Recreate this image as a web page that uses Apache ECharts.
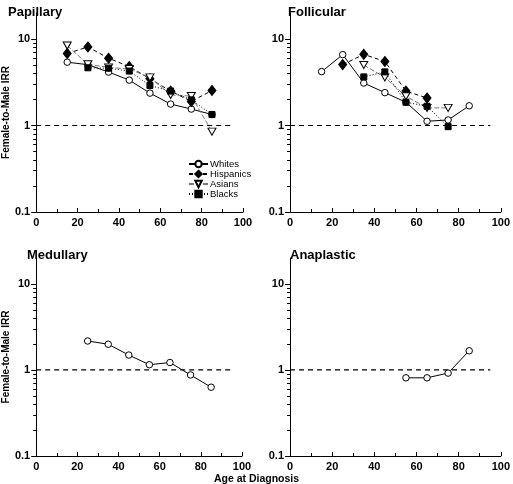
<!DOCTYPE html>
<html><head><meta charset="utf-8">
<script src="https://cdn.jsdelivr.net/npm/echarts@6/dist/echarts.min.js"></script>
<style>html,body{margin:0;padding:0;background:#fff}#c{width:513px;height:484px}</style>
</head><body><div id="c"></div>
<script>
// ---- data ----
var ages = [15, 25, 35, 45, 55, 65, 75, 85];
var papWhites    = [5.4, 5.05, 4.15, 3.35, 2.37, 1.77, 1.55, 1.34];
var papHispanics = [6.8, 8.1, 6.0, 4.8, 3.47, 2.5, 1.9, 2.54];
var papAsians    = [8.4, 5.1, 4.7, 4.5, 3.6, 2.26, 2.19, 0.85];
var papBlacks    = [null, 4.65, 4.6, 4.26, 2.9, 2.5, 1.98, 1.34];
var folWhites    = [4.2, 6.6, 3.1, 2.4, 1.86, 1.12, 1.16, 1.69];
var folHispanics = [null, 5.06, 6.65, 5.5, 2.5, 2.08, null, null];
var folAsians    = [null, null, 5.0, 3.6, 2.18, 1.6, 1.6, null];
var folBlacks    = [null, null, 3.65, 4.17, 1.86, 1.67, 0.97, null];
var medWhites    = [null, 2.17, 1.99, 1.49, 1.15, 1.22, 0.875, 0.63];
var anaWhites    = [null, null, null, null, 0.81, 0.81, 0.92, 1.67];
var panelTitles = ['Papillary', 'Follicular', 'Medullary', 'Anaplastic'];
var groups = ['Whites', 'Hispanics', 'Asians', 'Blacks'];
var refLine = [[0, 1], [95, 1]];
var yMajorTicks = [0.1, 1, 10];
var yMinorTicks = [0.2,0.3,0.4,0.5,0.6,0.7,0.8,0.9,2,3,4,5,6,7,8,9];

function pairs(vals){ var out=[]; for(var i=0;i<ages.length;i++){ if(vals[i]!=null) out.push([ages[i], vals[i]]); } return out; }

var FONT = 'Liberation Sans, Arial, Helvetica, sans-serif';
var grids = [
  {left:30, top:13, width:213, height:199},
  {left:290, top:13, width:212, height:199},
  {left:29, top:258, width:213, height:198},
  {left:290, top:258, width:212, height:198}
];
var styles = {
  Whites:    {symbol:'circle', size:6.5, fill:'#fff', line:'#000', type:'solid'},
  Hispanics: {symbol:'diamond', size:[8,10], fill:'#000', line:'#000', type:[4,3]},
  Asians:    {symbol:'path://M0,0 L10,0 L5,9 Z', size:[8,7], fill:'#fff', line:'#777', type:[5,2]},
  Blacks:    {symbol:'rect', size:6, fill:'#000', line:'#000', type:[1,2]}
};

var xAxes=[], yAxes=[], series=[], titles=[];
grids.forEach(function(g, i){
  xAxes.push({type:'value', gridIndex:i, min:0, max:100, interval:20,
    axisLine:{show:true, lineStyle:{color:'#000', width:1}},
    axisTick:{show:true, inside:true, length:4, lineStyle:{color:'#000'}},
    minorTick:{show:true, splitNumber:2, length:3, lineStyle:{color:'#000'}},
    splitLine:{show:false},
    axisLabel:{color:'#000', fontFamily:FONT, fontWeight:'bold', fontSize:11, margin:5}
  });
  yAxes.push({type:'log', logBase:10, gridIndex:i, min:0.1, max:20, position:'left',
    name: (i%2===0) ? 'Female-to-Male IRR' : '', nameLocation:'middle', nameGap:18,
    nameTextStyle:{color:'#000', fontFamily:FONT, fontWeight:'bold', fontSize:10},
    axisLine:{show:true, onZero:false, lineStyle:{color:'#000', width:1}},
    axisTick:{show:true, length:5, customValues:yMajorTicks, lineStyle:{color:'#000'}},
    splitLine:{show:false},
    axisLabel:{color:'#000', fontFamily:FONT, fontWeight:'bold', fontSize:11, margin:6, customValues:yMajorTicks}
  });
  yAxes.push({type:'log', logBase:10, gridIndex:i, min:0.1, max:20, position:'left', offset:0,
    axisLine:{show:false},
    axisTick:{show:true, length:3, customValues:yMinorTicks, lineStyle:{color:'#000'}},
    splitLine:{show:false}, axisLabel:{show:false}
  });
  series.push({type:'line', name:'ref', xAxisIndex:i, yAxisIndex:2*i, data:refLine,
    symbol:'none', silent:true, z:1,
    lineStyle:{color:'#000', width:1.2, type:[5,4]}});
  titles.push({text:panelTitles[i], left:[3,283,22,285][i], top:[1,1,244,244][i],
    textStyle:{fontFamily:FONT, fontWeight:'bold', fontSize:13, color:'#000'}});
});

function addSeries(panel, name, vals){
  var s = styles[name];
  series.push({type:'line', name:name, xAxisIndex:panel, yAxisIndex:2*panel,
    data:pairs(vals), symbol:s.symbol, symbolSize:s.size, showSymbol:true, z:3,
    itemStyle:{color:s.fill, borderColor:'#000', borderWidth:1, opacity:1},
    lineStyle:{color:s.line, width:1, type:s.type}, animation:false});
}
addSeries(0,'Whites',papWhites); addSeries(0,'Hispanics',papHispanics);
addSeries(0,'Asians',papAsians); addSeries(0,'Blacks',papBlacks);
addSeries(1,'Whites',folWhites); addSeries(1,'Hispanics',folHispanics);
addSeries(1,'Asians',folAsians); addSeries(1,'Blacks',folBlacks);
addSeries(2,'Whites',medWhites);
addSeries(3,'Whites',anaWhites);

titles.push({text:'Age at Diagnosis', left:'center', top:469,
  textStyle:{fontFamily:FONT, fontWeight:'bold', fontSize:10.5, color:'#000'}});

var chart = echarts.init(document.getElementById('c'), null, {renderer:'canvas'});
chart.setOption({
  animation:false,
  backgroundColor:'#fff',
  title:titles,
  grid:grids,
  xAxis:xAxes,
  yAxis:yAxes,
  legend:{data:groups, orient:'vertical', left:183, top:154, itemWidth:19, itemHeight:8, itemGap:0,
    textStyle:{fontFamily:FONT, fontSize:9.5, lineHeight:10, color:'#000', padding:[0,0,0,-3]}},
  series:series
});
</script></body></html>
